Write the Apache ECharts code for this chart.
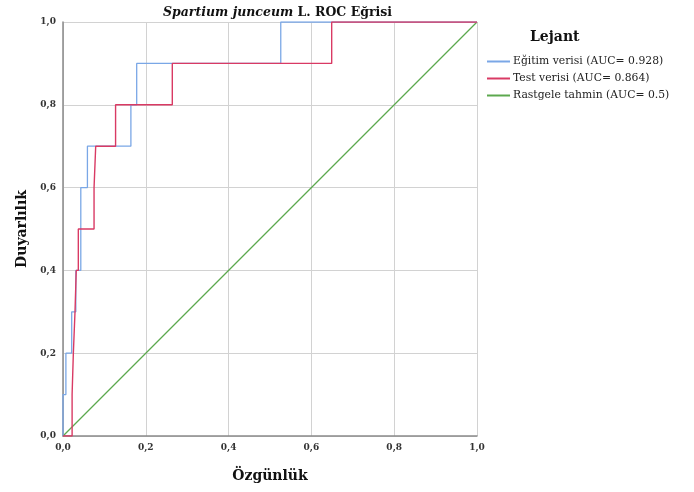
<!DOCTYPE html>
<html>
<head>
<meta charset="utf-8">
<script src="https://cdn.jsdelivr.net/npm/echarts@6/dist/echarts.min.js"></script>
<style>html,body{margin:0;padding:0;background:#fff}#c{width:694px;height:492px}</style>
</head>
<body>
<div id="c"></div>
<script>
// ROC points (1 - specificity, sensitivity)
const trainFPR = [0, 0, 0.007, 0.021, 0.031, 0.043, 0.059, 0.164, 0.178, 0.526, 1];
const trainTPR = [0, 0.1, 0.2, 0.3, 0.4, 0.6, 0.7, 0.8, 0.9, 1.0, 1.0];
const testFPR = [0, 0.022, 0.025, 0.029, 0.032, 0.037, 0.075, 0.079, 0.127, 0.264, 0.649, 1];
const testTPR = [0, 0.1, 0.2, 0.3, 0.4, 0.5, 0.6, 0.7, 0.8, 0.9, 1.0, 1.0];
const randFPR = [0, 1];
const randTPR = [0, 1];
const seriesNames = ['Eğitim verisi (AUC= 0.928)', 'Test verisi (AUC= 0.864)', 'Rastgele tahmin (AUC= 0.5)'];
const tickLabels = ['0,0', '0,2', '0,4', '0,6', '0,8', '1,0'];

const zip = (a, b) => a.map((v, i) => [v, b[i]]);
const serif = 'DejaVu Serif';
const chart = echarts.init(document.getElementById('c'));
const axisCommon = {
  type: 'value', min: 0, max: 1, interval: 0.2,
  axisLine: { show: true, lineStyle: { color: '#8a8a8a', width: 1.5 } },
  axisTick: { show: false },
  splitLine: { show: true, lineStyle: { color: '#d2d2d2', width: 1 } },
  axisLabel: {
    fontFamily: serif, fontSize: 9, color: '#333', fontWeight: 'bold', margin: 7,
    formatter: v => tickLabels[Math.round(v / 0.2)]
  },
  nameLocation: 'middle',
  nameTextStyle: { fontFamily: serif, fontSize: 14, fontWeight: 'bold', color: '#111' }
};
chart.setOption({
  animation: false,
  title: {
    left: 158, top: 1,
    text: '{i|Spartium junceum}{n| L. ROC Eğrisi}',
    textStyle: {
      rich: {
        i: { fontFamily: serif, fontSize: 12.5, fontWeight: 'bold', fontStyle: 'italic', color: '#111' },
        n: { fontFamily: serif, fontSize: 12.5, fontWeight: 'bold', color: '#111' }
      }
    }
  },
  graphic: [{
    type: 'text', left: 530, top: 30,
    style: { text: 'Lejant', font: 'bold 14px "DejaVu Serif"', fill: '#111' }
  }],
  legend: {
    orient: 'vertical', left: 487, top: 56, padding: 0,
    itemWidth: 23, itemHeight: 2, itemGap: 6,
    icon: 'rect',
    data: seriesNames,
    textStyle: { fontFamily: serif, fontSize: 10.8, color: '#222', padding: [0, 0, 0, -2] }
  },
  grid: { left: 63, right: 217, top: 22, bottom: 56 },
  xAxis: Object.assign({}, axisCommon, { name: 'Özgünlük', nameGap: 33 }),
  yAxis: Object.assign({}, axisCommon, { name: 'Duyarlılık', nameGap: 33 }),
  series: [
    { name: seriesNames[0], type: 'line', step: 'end', symbol: 'none', data: zip(trainFPR, trainTPR),
      lineStyle: { color: '#7aa7e6', width: 1.3 }, itemStyle: { color: '#7aa7e6' }, z: 3 },
    { name: seriesNames[1], type: 'line', step: 'end', symbol: 'none', data: zip(testFPR, testTPR),
      lineStyle: { color: '#d93a64', width: 1.4 }, itemStyle: { color: '#d93a64' }, z: 4 },
    { name: seriesNames[2], type: 'line', symbol: 'none', data: zip(randFPR, randTPR),
      lineStyle: { color: '#5ca84e', width: 1.3 }, itemStyle: { color: '#5ca84e' }, z: 2 }
  ]
});
</script>
</body>
</html>
